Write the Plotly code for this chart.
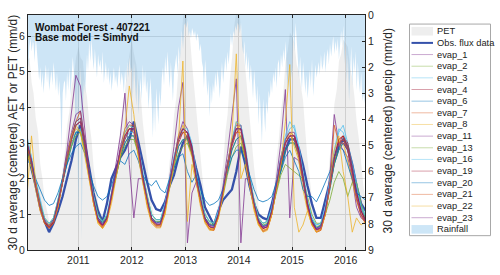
import plotly.graph_objects as go

# ---------------- data ----------------
# monthly (mid-month) 30-d average AET, Jan 2010 .. May 2016 (77 values)
obs = [2.8,2.3,1.8,1.2,0.8,0.5,0.75,1.1,1.5,2.0,2.5,3.1,
       3.5,3.0,2.3,1.6,1.1,0.8,1.3,2.0,2.3,2.6,2.8,3.1,
       3.6,3.0,2.5,1.9,1.4,1.15,1.1,1.35,1.8,2.1,2.6,3.0,
       3.2,2.8,2.3,1.8,1.2,0.95,0.7,1.1,1.4,1.55,1.7,2.2,
       2.9,2.4,1.8,1.3,1.0,0.9,0.85,1.3,1.8,2.3,2.8,3.1,
       3.1,2.85,2.4,1.8,1.3,0.9,0.9,1.4,1.9,2.5,2.9,3.1,
       2.9,2.4,1.8,1.3,1.1]
evap_1 = [3.0,2.5,1.9,1.3,0.8,0.65,0.8,1.3,2.0,2.8,3.8,4.9,
          4.6,3.3,2.2,1.4,0.85,0.7,0.9,1.6,2.4,3.2,4.4,2.4,
          0.9,2.0,2.0,1.4,0.9,0.75,0.8,1.3,2.0,2.9,4.0,4.7,
          0.2,1.6,1.9,1.4,0.9,0.7,0.7,1.1,1.8,2.7,3.8,4.8,
          0.2,2.0,2.0,1.3,0.8,0.65,0.7,1.2,2.0,3.0,4.5,0.9,
          2.6,2.5,1.9,1.2,0.8,0.6,0.7,1.2,2.1,3.8,3.0,2.8,
          2.6,2.0,1.2,0.9,0.8]
evap_2 = [2.8,2.3,1.8,1.2,0.8,0.7,0.85,1.3,1.9,2.5,3.0,3.3,
          3.4,2.8,2.1,1.4,0.9,0.75,0.95,1.5,2.1,2.6,3.0,3.2,
          3.2,2.7,2.0,1.4,0.9,0.8,0.8,1.2,1.8,2.4,2.9,3.1,
          3.1,2.7,2.0,1.4,0.9,0.75,0.7,1.0,1.6,2.3,2.8,3.1,
          3.2,2.6,1.9,1.3,0.85,0.7,0.75,1.1,1.7,2.3,2.8,3.0,
          3.0,2.6,2.0,1.3,0.85,0.65,0.7,1.1,1.7,2.4,2.8,3.0,
          2.8,2.2,1.6,1.2,0.9]
evap_3 = [3.2,2.6,1.9,1.3,0.85,0.7,0.85,1.4,2.0,2.6,3.1,3.3,
          3.4,2.9,2.2,1.5,0.95,0.8,1.0,1.6,2.2,2.7,3.1,3.3,
          3.3,2.9,2.2,1.5,1.0,0.85,0.85,1.3,2.0,2.6,3.1,3.3,
          3.3,2.9,2.2,1.5,1.0,0.8,0.75,1.1,1.7,2.4,3.0,3.4,
          3.4,2.8,2.1,1.4,0.9,0.75,0.8,1.2,1.9,2.6,3.1,3.4,
          3.5,2.9,2.2,1.4,0.9,0.7,0.75,1.2,1.9,2.7,3.3,3.5,
          3.0,2.4,1.8,1.3,1.0]
evap_4 = [3.0,2.5,1.9,1.2,0.8,0.65,0.8,1.3,1.9,2.5,3.1,3.5,
          3.6,3.0,2.2,1.4,0.85,0.7,0.9,1.5,2.1,2.7,3.1,3.4,
          3.4,2.9,2.1,1.4,0.85,0.7,0.72,1.2,1.9,2.5,3.0,3.3,
          3.3,2.9,2.1,1.4,0.85,0.65,0.62,1.0,1.6,2.3,2.9,3.3,
          3.4,2.8,2.0,1.3,0.8,0.6,0.65,1.1,1.8,2.4,3.0,3.2,
          3.2,2.8,2.1,1.3,0.8,0.58,0.62,1.1,1.8,2.5,3.0,3.2,
          3.0,2.3,1.7,1.1,0.85]
evap_6 = [2.9,2.4,1.8,1.2,0.8,0.7,0.85,1.3,1.9,2.4,2.9,3.3,
          3.3,2.8,2.1,1.4,0.9,0.75,0.9,1.5,2.0,2.6,3.0,3.2,
          3.2,2.8,2.1,1.4,0.9,0.78,0.78,1.2,1.8,2.4,2.9,3.1,
          3.1,2.7,2.1,1.4,0.9,0.72,0.68,1.0,1.6,2.2,2.8,3.1,
          3.2,2.7,2.0,1.3,0.85,0.68,0.72,1.1,1.7,2.3,2.8,3.0,
          3.0,2.7,2.1,1.3,0.85,0.62,0.68,1.1,1.7,2.4,2.8,3.0,
          2.8,2.3,1.7,1.2,0.9]
evap_7 = [3.1,2.5,1.8,1.1,0.75,0.62,0.75,1.2,1.9,2.6,3.2,3.6,
          3.9,3.0,2.1,1.3,0.8,0.65,0.85,1.5,2.2,2.8,3.3,3.5,
          3.5,2.8,2.0,1.3,0.8,0.68,0.7,1.1,1.9,2.6,3.2,3.4,
          3.3,2.8,2.0,1.3,0.8,0.6,0.58,0.95,1.6,2.4,3.1,3.4,
          3.5,2.7,1.9,1.2,0.75,0.55,0.6,1.0,1.8,2.5,3.1,3.3,
          3.2,2.7,2.0,1.2,0.75,0.52,0.58,1.0,1.8,2.6,3.1,3.2,
          2.9,2.2,1.5,1.0,0.75]
evap_8 = [2.7,2.3,1.7,1.1,0.75,0.65,0.8,1.3,2.0,2.6,3.1,3.4,
          3.3,2.7,2.0,1.3,0.75,0.6,0.8,1.4,2.1,2.7,3.2,3.5,
          3.4,2.6,1.9,1.2,0.75,0.62,0.62,1.0,1.8,2.5,3.1,3.5,
          3.0,2.6,1.9,1.2,0.75,0.55,0.55,0.9,1.6,2.3,3.0,3.6,
          3.1,2.5,1.8,1.1,0.7,0.5,0.55,1.0,1.7,2.4,3.0,3.3,
          2.9,2.5,1.7,1.1,0.7,0.5,0.55,1.0,1.8,2.5,3.0,3.0,
          2.5,1.9,1.4,1.0,0.8]
evap_11 = [2.9,2.5,1.9,1.3,0.85,0.7,0.85,1.3,2.0,2.7,3.3,3.8,
           3.9,3.1,2.2,1.4,0.9,0.72,0.9,1.5,2.2,2.9,3.4,3.6,
           3.5,2.9,2.1,1.4,0.9,0.75,0.75,1.2,1.9,2.6,3.2,3.6,
           3.4,2.9,2.1,1.4,0.9,0.7,0.65,1.0,1.7,2.4,3.1,3.5,
           3.5,2.8,2.0,1.3,0.85,0.65,0.7,1.1,1.9,2.6,3.1,3.3,
           3.3,2.8,2.1,1.3,0.8,0.6,0.65,1.1,1.9,2.6,3.0,3.1,
           2.8,2.2,1.6,1.1,0.85]
evap_13 = [2.9,2.5,1.9,1.3,0.9,0.75,0.9,1.4,2.0,2.5,2.9,3.2,
           3.3,2.8,2.2,1.5,1.0,0.8,0.95,1.5,2.1,2.6,2.9,3.1,
           3.1,2.7,2.1,1.5,1.0,0.85,0.85,1.2,1.8,2.3,2.7,2.9,
           3.0,2.7,2.1,1.5,1.0,0.8,0.75,1.0,1.5,2.1,2.6,2.9,
           3.0,2.6,2.0,1.4,0.9,0.75,0.8,1.1,1.6,2.1,2.4,2.3,
           2.2,2.1,2.0,1.5,1.0,0.75,0.75,1.0,1.4,1.9,2.2,2.0,
           1.5,1.9,1.9,1.3,0.9]
evap_16 = [3.1,2.6,2.0,1.4,0.9,0.75,0.9,1.4,2.0,2.6,3.2,3.6,
           3.7,3.0,2.2,1.5,0.95,0.8,1.0,1.6,2.2,2.8,3.3,3.5,
           3.4,2.9,2.2,1.5,1.0,0.85,0.85,1.3,1.9,2.6,3.1,3.4,
           3.4,3.0,2.2,1.5,1.0,0.8,0.75,1.1,1.7,2.4,3.1,3.6,
           3.5,2.9,2.1,1.4,0.9,0.75,0.8,1.2,1.9,2.6,3.2,3.6,
           3.4,2.9,2.2,1.4,0.9,0.7,0.75,1.2,2.0,2.8,3.4,3.3,
           2.9,2.3,1.7,1.2,0.95]
evap_19 = [3.0,2.5,1.9,1.2,0.78,0.63,0.78,1.3,1.9,2.6,3.2,3.6,
           3.7,3.0,2.2,1.4,0.82,0.68,0.88,1.5,2.2,2.8,3.2,3.4,
           3.4,2.9,2.1,1.4,0.85,0.7,0.7,1.2,1.9,2.5,3.1,3.4,
           3.3,2.9,2.1,1.4,0.85,0.65,0.6,1.0,1.6,2.4,3.0,3.4,
           3.4,2.8,2.0,1.3,0.8,0.6,0.65,1.1,1.8,2.5,3.0,3.2,
           3.2,2.8,2.1,1.3,0.78,0.56,0.6,1.1,1.8,2.6,3.1,3.2,
           2.9,2.3,1.6,1.1,0.8]
evap_20 = [2.5,2.4,2.0,1.7,1.4,1.25,1.3,1.6,2.0,2.4,2.7,2.9,
           3.0,2.7,2.2,1.8,1.5,1.4,1.5,1.8,2.2,2.5,2.4,2.7,
           2.8,2.5,2.1,1.9,1.8,1.95,1.7,1.6,2.0,2.3,2.6,2.7,
           2.2,1.9,2.1,1.7,1.4,1.25,1.3,1.4,1.7,2.2,2.6,2.8,
           2.8,2.5,2.1,1.7,1.4,1.35,1.4,1.5,1.9,2.2,2.6,2.8,
           2.5,2.2,1.7,1.5,1.5,1.35,1.6,1.9,2.2,2.6,2.9,2.8,
           2.4,2.0,1.6,1.5,1.4]
evap_21 = [2.9,2.4,1.8,1.2,0.75,0.6,0.75,1.2,1.9,2.6,3.1,3.5,
           3.6,2.9,2.1,1.3,0.8,0.62,0.82,1.4,2.1,2.7,3.2,3.4,
           3.3,2.7,2.0,1.3,0.8,0.65,0.65,1.1,1.8,2.5,3.1,3.3,
           3.2,2.7,2.0,1.3,0.8,0.58,0.55,0.95,1.6,2.3,3.0,3.3,
           3.3,2.6,1.9,1.2,0.75,0.52,0.58,1.0,1.7,2.4,3.0,3.2,
           3.1,2.6,2.0,1.2,0.72,0.5,0.55,1.0,1.8,3.5,3.0,3.1,
           2.8,2.1,1.4,0.95,0.75]
evap_22 = [1.5,3.2,1.9,1.2,0.8,0.7,0.8,1.2,1.9,2.6,3.2,3.5,
           3.3,2.6,1.9,1.3,0.75,0.6,0.8,1.3,2.0,2.7,3.4,4.6,
           3.8,2.6,1.9,1.3,0.8,0.7,0.7,1.0,1.7,2.4,3.1,5.3,
           0.8,2.4,1.9,1.3,0.8,0.6,0.6,0.9,1.5,2.3,3.2,5.5,
           2.0,2.4,1.8,1.2,0.7,0.55,0.6,1.0,1.7,2.4,3.6,5.2,
           1.2,0.5,0.7,1.1,0.7,0.5,0.6,1.0,1.8,2.8,3.2,2.2,
           1.5,0.5,0.9,0.7,0.8]
evap_23 = [3.0,2.5,1.8,1.2,0.8,0.66,0.8,1.3,1.9,2.6,3.1,3.5,
           3.6,2.9,2.1,1.4,0.85,0.7,0.88,1.5,2.1,2.8,3.2,3.4,
           3.4,2.8,2.0,1.4,0.85,0.72,0.72,1.2,1.9,2.5,3.1,3.4,
           3.3,2.8,2.0,1.4,0.85,0.66,0.62,1.0,1.7,2.4,3.0,3.4,
           3.4,2.7,1.9,1.3,0.8,0.62,0.66,1.1,1.8,2.5,3.0,3.2,
           3.2,2.7,2.0,1.3,0.78,0.57,0.62,1.1,1.8,2.6,3.0,3.0,
           2.8,2.2,1.5,1.0,0.8]

# semi-monthly (1st, 16th) 30-d average PET (mm/d)
pet = [5.6,5.3,5.4,4.7,4.4,3.7,3.3,2.4,2.0,1.4,1.1,0.8, 0.7,0.8,1.0,1.4,1.7,2.3,2.8,3.5,3.9,4.6,4.9,5.4,
       5.7,5.4,5.3,4.6,4.3,3.6,3.1,2.3,1.9,1.3,1.0,0.75, 0.75,0.8,1.1,1.3,1.9,2.2,3.0,3.4,4.1,4.5,5.1,5.5,
       5.9,5.5,5.2,4.7,4.4,3.6,3.0,2.3,1.8,1.3,0.95,0.75, 0.7,0.85,1.0,1.5,1.8,2.5,3.0,3.8,4.3,5.2,5.7,6.5,
       6.9,6.4,6.0,5.2,4.6,3.8,3.2,2.4,1.9,1.3,1.0,0.75, 0.7,0.8,1.1,1.3,2.0,2.4,3.3,3.8,4.8,5.4,6.3,6.7,
       6.9,6.2,5.7,5.0,4.4,3.7,3.1,2.3,1.8,1.2,0.9,0.75, 0.75,0.8,1.0,1.5,1.8,2.6,3.1,3.9,4.4,5.3,5.6,6.1,
       6.0,5.8,5.2,5.0,4.6,4.2,3.3,2.5,2.0,1.4,1.0,0.8, 0.7,0.85,1.0,1.6,1.9,2.7,3.2,4.1,4.5,5.3,5.5,5.9,
       5.8,5.7,5.1,4.8,4.3,3.6,3.1,2.4,1.8,1.4]

# weekly (1st, 8th, 16th, 24th) 30-d average rainfall (mm/d)
rain = [1.8,2.4,1.5,2.0, 1.2,0.9,1.4,1.0, 1.1,1.8,0.8,1.5, 1.8,2.5,2.0,2.8, 2.2,3.0,2.4,1.9, 2.6,2.0,2.9,2.3,
        2.1,2.7,1.8,2.4, 2.9,2.2,3.1,2.5, 3.4,5.2,3.0,2.6, 2.5,3.3,2.2,2.9, 2.0,3.1,2.4,1.6, 2.2,3.0,5.5,2.4,
        8.4,3.0,2.0,8.6, 3.5,2.5,3.0,2.0, 1.5,2.2,1.0,1.8, 0.9,1.6,2.1,1.3, 1.8,2.4,1.5,2.0, 1.7,2.3,1.4,2.6,
        2.2,1.8,2.5,2.0, 2.7,2.2,2.9,2.4, 2.0,2.6,2.3,2.8, 2.4,1.9,2.7,2.2, 2.5,3.0,2.1,2.6, 1.8,2.4,1.6,2.2,
        2.0,3.2,1.8,2.6, 3.5,2.2,3.8,2.9, 2.4,3.3,1.9,2.8, 2.1,3.0,2.5,3.6, 3.0,2.4,3.4,4.7, 3.2,4.5,2.8,3.6,
        4.2,2.9,3.5,2.4, 2.0,2.7,1.6,2.3, 1.4,2.1,2.8,1.8, 2.6,3.3,2.2,1.7, 1.5,2.3,1.2,1.8, 1.0,0.6,1.3,0.4,
        0.3,0.5,0.2,0.8, 0.6,0.9,0.5,0.7, 0.8,0.6,1.0,0.7, 0.9,1.4,1.1,1.8, 2.0,2.8,1.7,2.4, 3.1,2.5,3.9,2.7,
        3.4,2.6,3.0,2.2, 2.8,2.1,2.5,3.2, 2.3,1.8,2.6,2.0, 1.6,2.2,1.4,1.9, 1.0,0.7,1.2,0.6, 0.8,0.4,0.6,0.3,
        0.4,0.7,0.3,1.2, 1.5,1.0,2.0,1.4, 2.2,1.6,2.6,1.9, 2.5,3.2,2.1,2.8, 3.4,2.7,4.2,3.0, 3.8,4.9,3.2,4.1,
        4.5,3.3,3.8,2.9, 3.2,2.5,3.0,2.2, 2.6,2.0,2.8,1.9, 1.7,2.4,1.5,2.0, 1.3,1.8,1.0,2.2, 2.8,1.9,3.3,2.4,
        2.0,0.6,1.4,0.3, 1.2,1.8,2.4,1.6, 2.2,2.9,1.8,2.5, 3.0,2.3,3.2,2.6, 2.1,2.8,1.7,3.1, 2.6,1.9,2.4,2.0,
        1.8,2.3,1.5,2.1, 1.9,1.4,2.2,1.6, 1.3,1.9,1.1,1.6, 1.2,0.8,1.5,1.0, 1.4,0.9,1.7,1.1, 0.6,1.2,0.4,1.9,
        0.8,2.6,1.5,3.3, 2.0,1.2,2.7,1.6, 2.2,1.4,2.9,1.8, 2.6,3.0,2.2,3.3, 3.0,3.4,2.6,3.1]

model_names = ["evap_1", "evap_2", "evap_3", "evap_4", "evap_6", "evap_7", "evap_8", "evap_11",
               "evap_13", "evap_16", "evap_19", "evap_20", "evap_21", "evap_22", "evap_23"]
model_series = [evap_1, evap_2, evap_3, evap_4, evap_6, evap_7, evap_8, evap_11,
                evap_13, evap_16, evap_19, evap_20, evap_21, evap_22, evap_23]
year_ticks = ["2011", "2012", "2013", "2014", "2015", "2016"]
left_ticks = [0, 1, 2, 3, 4, 5, 6]
right_ticks = [0, 1, 2, 3, 4, 5, 6, 7, 8, 9]

# ---------------- x positions ----------------
ym = [(y, m) for y in range(2010, 2017) for m in range(1, 13) if (y, m) <= (2016, 5)]
month_x = [f"{y}-{m:02d}-15" for y, m in ym]
semi_x = [f"{y}-{m:02d}-{d:02d}" for y, m in ym for d in (1, 16)]
week_x = [f"{y}-{m:02d}-{d:02d}" for y, m in ym for d in (1, 8, 16, 24)]
for s in [obs] + model_series:
    assert len(s) == len(month_x), len(s)
assert len(pet) == len(semi_x), len(pet)
assert len(rain) == len(week_x), len(rain)

# ---------------- style ----------------
FONT = "Liberation Sans, Arial, sans-serif"
AX = "#262626"
cycle = ["#7E2F8E", "#77AC30", "#4DBEEE", "#A2142F", "#0072BD", "#D95319", "#EDB120"]
model_colors = [cycle[i % 7] for i in range(len(model_names))]
OBS_COLOR = "#3551aa"
PET_FILL = "rgba(0,0,0,0.068)"
RAIN_FILL = "rgba(77,160,222,0.28)"

W, H = 500, 275
L, R, T, B = 28, 365, 9, 255
def px(x):
    return (x - L) / (R - L)
def py(y):
    return (B - y) / (B - T)

fig = go.Figure()
fig.add_trace(go.Scatter(x=semi_x, y=pet, yaxis="y", mode="lines", fill="tozeroy",
                         line=dict(width=0, color=PET_FILL), fillcolor=PET_FILL,
                         hoverinfo="skip", showlegend=False))
fig.add_trace(go.Scatter(x=week_x, y=rain, yaxis="y2", mode="lines", fill="tozeroy",
                         line=dict(width=0, color=RAIN_FILL), fillcolor=RAIN_FILL,
                         hoverinfo="skip", showlegend=False))
fig.add_trace(go.Scatter(x=month_x, y=obs, yaxis="y3", mode="lines",
                         line=dict(width=2.3, color=OBS_COLOR), showlegend=False))
for name, s, c in zip(model_names, model_series, model_colors):
    fig.add_trace(go.Scatter(x=month_x, y=s, yaxis="y3", mode="lines", name=name,
                             line=dict(width=0.9, color=c), opacity=0.85, showlegend=False))

xr = ["2010-01-22", "2016-05-12"]
yr = [0, 6.59]
fig.update_layout(
    width=W, height=H,
    margin=dict(l=L, r=W - R, t=T, b=H - B, pad=0),
    paper_bgcolor="white", plot_bgcolor="white",
    font=dict(family=FONT, size=10, color=AX),
    showlegend=False,
    xaxis=dict(type="date", range=xr, tickvals=[f"{y}-01-01" for y in year_ticks],
               ticktext=year_ticks, showgrid=True, gridcolor="#dedede", gridwidth=1,
               showline=True, linecolor=AX, linewidth=1, mirror="ticks",
               ticks="inside", ticklen=3, tickcolor=AX, tickfont=dict(size=10.5),
               zeroline=False),
    yaxis=dict(range=yr, tickvals=left_ticks, showgrid=True, gridcolor="#dedede",
               showline=True, linecolor=AX, linewidth=1, ticks="inside", ticklen=3,
               tickcolor=AX, tickfont=dict(size=10.5), zeroline=False),
    yaxis2=dict(range=[9, 0], overlaying="y", side="right", tickvals=right_ticks,
                showgrid=False, showline=True, linecolor=AX, linewidth=1,
                ticks="inside", ticklen=3, tickcolor=AX, tickfont=dict(size=10.5),
                zeroline=False),
    yaxis3=dict(range=yr, overlaying="y", visible=False, zeroline=False, showgrid=False),
)

ann = []
shapes = []
ann.append(dict(text="<b>Wombat Forest - 407221</b>", x=px(33), y=py(22.5), xref="paper", yref="paper",
                xanchor="left", yanchor="middle", showarrow=False, font=dict(size=10, color="#111")))
ann.append(dict(text="<b>Base model = Simhyd</b>", x=px(33), y=py(32.5), xref="paper", yref="paper",
                xanchor="left", yanchor="middle", showarrow=False, font=dict(size=10, color="#111")))
ann.append(dict(text="30 d average (centered) AET or PET (mm/d)", x=px(12), y=py(132), xref="paper",
                yref="paper", xanchor="center", yanchor="middle", textangle=-90, showarrow=False,
                font=dict(size=12, color=AX)))
ann.append(dict(text="30 d average (centered) precip (mm/d)", x=px(388), y=py(131), xref="paper",
                yref="paper", xanchor="center", yanchor="middle", textangle=-90, showarrow=False,
                font=dict(size=12, color=AX)))

# custom compact legend
leg_names = ["PET", "Obs. flux data"] + model_names + ["Rainfall"]
bx0, bx1, by0, by1 = 409.5, 490.5, 18.5, 240
shapes.append(dict(type="rect", xref="paper", yref="paper", x0=px(bx0), x1=px(bx1), y0=py(by1), y1=py(by0),
                   line=dict(color="#a8a8a8", width=1), fillcolor="white", layer="above"))
row0, dy = 26.0, 12.2
sx0, sx1, tx = 411.5, 433.0, 435.0
for i, nm in enumerate(leg_names):
    yc = row0 + dy * i
    if nm == "PET":
        shapes.append(dict(type="rect", xref="paper", yref="paper", x0=px(sx0), x1=px(sx1),
                           y0=py(yc + 4.5), y1=py(yc - 4.5), line=dict(width=0), fillcolor="#eeeeee", layer="above"))
    elif nm == "Rainfall":
        shapes.append(dict(type="rect", xref="paper", yref="paper", x0=px(sx0), x1=px(sx1),
                           y0=py(yc + 4.5), y1=py(yc - 4.5), line=dict(width=0), fillcolor="#cde6f7", layer="above"))
    elif nm == "Obs. flux data":
        shapes.append(dict(type="line", xref="paper", yref="paper", x0=px(sx0), x1=px(sx1),
                           y0=py(yc), y1=py(yc), line=dict(color=OBS_COLOR, width=2), layer="above"))
    else:
        c = model_colors[model_names.index(nm)]
        shapes.append(dict(type="line", xref="paper", yref="paper", x0=px(sx0), x1=px(sx1),
                           y0=py(yc), y1=py(yc), line=dict(color=c, width=1), opacity=0.4, layer="above"))
    ann.append(dict(text=nm, x=px(tx), y=py(yc), xref="paper", yref="paper", xanchor="left",
                    yanchor="middle", showarrow=False, font=dict(size=9.3, color="#222")))

fig.update_layout(annotations=ann, shapes=shapes)
fig.write_html("out.html")
